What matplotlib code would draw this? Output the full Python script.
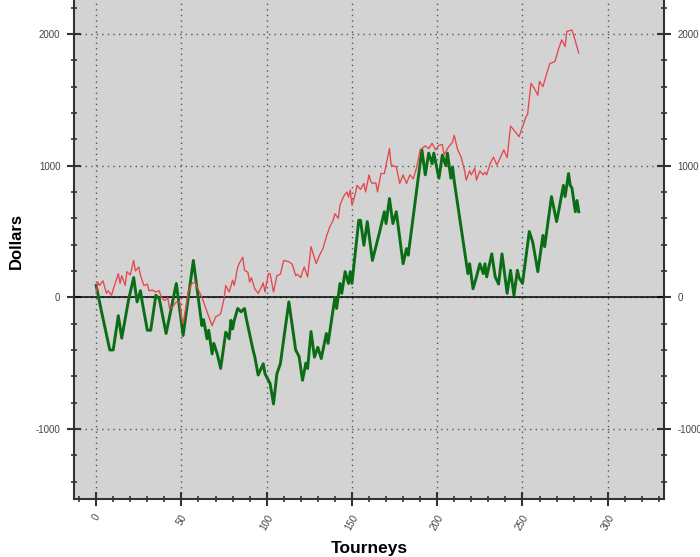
import matplotlib
matplotlib.use("Agg")
import matplotlib.pyplot as plt
from matplotlib.ticker import MultipleLocator

plt.rcParams['font.family'] = ['Liberation Sans', 'DejaVu Sans']
plt.rcParams['axes.unicode_minus'] = False

# green: thick line
green_t = [0, 3, 8, 10, 13, 15, 19, 22, 24, 26,
           27, 30, 32, 35, 37, 41, 47, 51, 57, 62,
           63, 65, 66, 68, 69, 71, 73, 76, 78, 79,
           80, 81, 83, 85, 87, 88, 92, 93, 95, 98,
           99, 102, 104, 106, 108, 113, 117, 119, 121, 123,
           124, 126, 128, 130, 132, 135, 136, 140, 141, 143,
           144, 146, 148, 149, 150, 154, 155, 157, 159, 162,
           166, 169, 170, 172, 174, 176, 180, 182, 183, 191,
           193, 195, 197, 198, 199, 201, 203, 205, 206, 208,
           209, 210, 218, 219, 221, 223, 225, 227, 228, 229,
           232, 234, 236, 238, 241, 243, 245, 247, 248, 250,
           254, 256, 259, 262, 263, 267, 270, 271, 274, 275,
           277, 278, 279, 281, 282, 283]
green_usd = [90, -100, -400, -400, -140, -310, -20, 150, -35, 50,
             -35, -250, -250, 15, -10, -275, 105, -290, 280, -215,
             -170, -315, -250, -430, -350, -430, -540, -265, -315, -175,
             -240, -175, -85, -110, -85, -160, -400, -450, -590, -505,
             -580, -655, -810, -580, -505, -35, -400, -450, -630, -500,
             -540, -260, -455, -380, -465, -275, -350, 0, -85, 105,
             30, 195, 105, 195, 105, 585, 585, 395, 575, 280,
             485, 650, 560, 750, 560, 650, 255, 370, 320, 1120,
             930, 1095, 1015, 1095, 1030, 905, 1080, 1000, 1095, 905,
             990, 880, 180, 255, 65, 155, 255, 180, 255, 155,
             330, 155, 100, 330, 30, 205, 15, 205, 150, 105,
             500, 420, 195, 470, 385, 765, 575, 640, 850, 765,
             940, 850, 830, 650, 735, 650]

# red: thin line
red_t = [0, 1, 2, 4, 6, 7, 9, 10, 13, 14,
         15, 17, 18, 20, 22, 23, 25, 26, 28, 30,
         31, 33, 35, 37, 38, 40, 42, 43, 45, 47,
         49, 50, 51, 54, 56, 58, 60, 62, 63, 65,
         68, 70, 73, 75, 76, 78, 80, 81, 83, 84,
         86, 87, 89, 90, 91, 93, 95, 97, 98, 99,
         101, 102, 104, 106, 108, 110, 113, 115, 117, 118,
         120, 121, 122, 124, 126, 129, 131, 133, 135, 137,
         139, 140, 142, 143, 145, 147, 148, 149, 150, 151,
         152, 153, 155, 157, 158, 160, 161, 162, 164, 165,
         167, 169, 172, 173, 176, 178, 180, 182, 184, 186,
         188, 190, 193, 195, 197, 199, 201, 203, 204, 206,
         209, 210, 212, 214, 216, 217, 219, 220, 222, 223,
         225, 227, 228, 229, 231, 233, 235, 237, 239, 241,
         243, 245, 248, 250, 252, 253, 255, 257, 259, 260,
         262, 264, 266, 269, 271, 273, 275, 276, 279, 280,
         283]
red_usd = [30, 115, 90, 125, 30, 50, 15, 60, 180, 105,
           165, 90, 195, 170, 280, 200, 230, 165, 90, 100,
           50, 55, 40, 50, 5, -25, -5, -85, -70, -35,
           -35, -150, -200, 40, 105, 115, 55, 0, -35, -110,
           -215, -150, -125, -10, 90, 40, 130, 90, 230, 260,
           305, 205, 190, 115, 150, 65, 30, 80, 110, 40,
           180, 180, 40, 165, 175, 280, 270, 250, 165, 175,
           150, 195, 230, 155, 385, 255, 320, 370, 460, 535,
           585, 635, 600, 700, 765, 800, 760, 815, 700, 740,
           790, 850, 820, 865, 800, 930, 880, 865, 870, 800,
           940, 940, 1130, 1005, 990, 865, 930, 865, 930, 900,
           990, 1120, 1150, 1130, 1170, 1120, 1155, 1160, 1080, 1130,
           1180, 1230, 1120, 1065, 965, 890, 960, 930, 980, 890,
           960, 930, 950, 930, 1015, 1065, 1005, 1060, 1120, 1060,
           1300, 1270, 1220, 1295, 1370, 1390, 1625, 1585, 1535, 1640,
           1600, 1690, 1775, 1790, 1880, 1955, 1905, 2020, 2030, 1990,
           1855]

fig = plt.figure(figsize=(7, 5.57), dpi=100)
ax = fig.add_axes([0.1057, 0.1041, 0.8429, 0.8959])
ax.set_facecolor('#d3d3d3')

ax.set_xlim(-13, 333)
ax.set_ylim(-1532, 2258)

ax.axhline(0, color='black', lw=1.1, zorder=2)
ax.plot(green_t, green_usd, color='#0b6e16', lw=2.1, zorder=3)
ax.plot(red_t, red_usd, color='#e5474a', lw=0.95, zorder=4)

ax.xaxis.set_major_locator(MultipleLocator(50))
ax.xaxis.set_minor_locator(MultipleLocator(10))
ax.yaxis.set_major_locator(MultipleLocator(1000))
ax.yaxis.set_minor_locator(MultipleLocator(200))
ax.grid(True, which='major', color='#555555', linestyle=(0, (1, 3)), lw=1)

ax.spines['top'].set_visible(False)
for s in ['left', 'right', 'bottom']:
    ax.spines[s].set_color('#333333')
    ax.spines[s].set_linewidth(1.5)

ax.tick_params(which='major', direction='inout', length=9.5, width=1.5,
               color='#333333', labelsize=7, labelcolor='#444444', pad=5,
               right=True, labelright=True, top=False)
ax.tick_params(which='minor', direction='inout', length=5, width=1.2,
               color='#333333', right=True, top=False)
for lab in ax.get_xticklabels():
    lab.set_rotation(60)
    lab.set_ha('center')

ax.set_xlabel('Tourneys', fontsize=12.5, fontweight='bold')
ax.xaxis.set_label_coords(0.5, -0.084)
ax.set_ylabel('Dollars', fontsize=12, fontweight='bold')
ax.yaxis.set_label_coords(-0.085, 0.517)

fig.savefig('out.png', dpi=100)
